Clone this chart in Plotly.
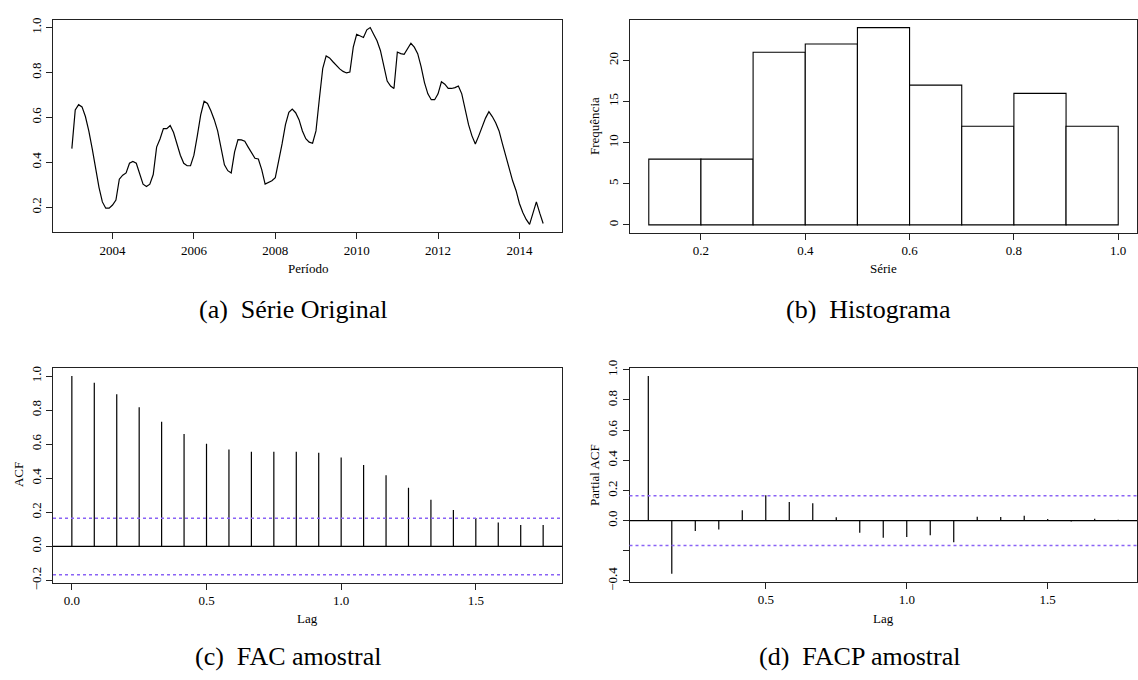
import math
import plotly.graph_objects as go

# ---------------- data ----------------
start_year = 2003.0
freq = 12
serie = [
    0.461, 0.633, 0.657, 0.647, 0.604, 0.540, 0.461, 0.375, 0.289, 0.224,
    0.196, 0.196, 0.210, 0.232, 0.325, 0.343, 0.353, 0.396, 0.404, 0.396,
    0.346, 0.303, 0.293, 0.303, 0.346, 0.468, 0.504, 0.550, 0.550, 0.564,
    0.533, 0.482, 0.432, 0.396, 0.385,
    0.385, 0.432, 0.518, 0.611, 0.672, 0.662, 0.630, 0.590, 0.540, 0.461,
    0.389, 0.363, 0.353, 0.447, 0.501, 0.500, 0.494, 0.468, 0.444, 0.418,
    0.415, 0.368, 0.303, 0.310, 0.318, 0.332, 0.404, 0.482, 0.568, 0.623,
    0.637, 0.621, 0.590, 0.540, 0.505, 0.490,
    0.485, 0.540, 0.683, 0.819, 0.874, 0.865, 0.848, 0.831, 0.816, 0.805,
    0.798, 0.802, 0.913, 0.970, 0.963, 0.956, 0.990, 1.000, 0.970, 0.941,
    0.898, 0.826, 0.762, 0.740, 0.729, 0.891, 0.884, 0.881, 0.908, 0.930,
    0.913, 0.884, 0.826, 0.755, 0.705,
    0.679, 0.679, 0.705, 0.759, 0.748, 0.729, 0.729, 0.733, 0.740, 0.705,
    0.633, 0.568, 0.518, 0.482, 0.518, 0.558, 0.597, 0.626, 0.604, 0.576,
    0.540, 0.482, 0.425, 0.368, 0.318, 0.275, 0.217, 0.177, 0.146, 0.124,
    0.174, 0.224, 0.174, 0.128,
]
periodo = [start_year + i / freq for i in range(len(serie))]

hist_edges = [0.1, 0.2, 0.3, 0.4, 0.5, 0.6, 0.7, 0.8, 0.9, 1.0]
hist_counts = [8, 8, 21, 22, 24, 17, 12, 16, 12]

acf_vals = [1.000, 0.960, 0.893, 0.817, 0.732, 0.660, 0.602, 0.568, 0.555, 0.555,
            0.555, 0.549, 0.522, 0.478, 0.417, 0.344, 0.274, 0.214, 0.166, 0.140,
            0.126, 0.126]
acf_lags = [k / 12 for k in range(len(acf_vals))]

pacf_vals = [0.959, -0.353, -0.069, -0.058, 0.069, 0.168, 0.123, 0.116, 0.022, -0.080,
             -0.114, -0.108, -0.097, -0.144, 0.026, 0.024, 0.032, 0.011, -0.006, 0.013,
             0.006]
pacf_lags = [(k + 1) / 12 for k in range(len(pacf_vals))]

n_obs = len(serie)
ci = 1.96 / math.sqrt(n_obs)

captions = ["(a)\u00a0\u00a0Série Original", "(b)\u00a0\u00a0Histograma",
            "(c)\u00a0\u00a0FAC amostral", "(d)\u00a0\u00a0FACP amostral"]

# ---------------- helpers ----------------
W, H = 1138, 680
FONT = "Liberation Serif"
TICKF = dict(family=FONT, size=13, color="black")


def rng(lo, hi):
    r = hi - lo
    return [lo - 0.04 * r, hi + 0.04 * r]


def px_x(a, b):
    return [a / W, b / W]


def px_y(top, bottom):
    return [1 - bottom / H, 1 - top / H]


def spikes(xs, ys):
    X, Y = [], []
    for x, y in zip(xs, ys):
        X += [x, x, None]
        Y += [0, y, None]
    return X, Y


ax_common = dict(showline=True, mirror=True, linecolor="#222", linewidth=1,
                 ticks="outside", ticklen=6, tickcolor="#222", tickwidth=1,
                 showgrid=False, zeroline=False, tickfont=TICKF)

fig = go.Figure()

# (a) time series
fig.add_trace(go.Scatter(x=periodo, y=serie, mode="lines",
                         line=dict(color="black", width=1.2),
                         xaxis="x", yaxis="y", showlegend=False))

# (b) histogram
centers = [(hist_edges[i] + hist_edges[i + 1]) / 2 for i in range(len(hist_counts))]
widths = [hist_edges[i + 1] - hist_edges[i] for i in range(len(hist_counts))]
fig.add_trace(go.Bar(x=centers, y=hist_counts, width=widths,
                     marker=dict(color="white", line=dict(color="black", width=1.1)),
                     xaxis="x2", yaxis="y2", showlegend=False))

# (c) ACF
ax_, ay_ = spikes(acf_lags, acf_vals)
fig.add_trace(go.Scatter(x=ax_, y=ay_, mode="lines", line=dict(color="black", width=1.2),
                         xaxis="x3", yaxis="y3", showlegend=False))

# (d) PACF
px_, py_ = spikes(pacf_lags, pacf_vals)
fig.add_trace(go.Scatter(x=px_, y=py_, mode="lines", line=dict(color="black", width=1.2),
                         xaxis="x4", yaxis="y4", showlegend=False))

shapes = []
for xa, ya in (("x3", "y3"), ("x4", "y4")):
    shapes.append(dict(type="line", xref=xa + " domain", yref=ya, x0=0, x1=1, y0=0, y1=0,
                       line=dict(color="black", width=1.2)))
    for s in (ci, -ci):
        shapes.append(dict(type="line", xref=xa + " domain", yref=ya, x0=0, x1=1, y0=s, y1=s,
                           line=dict(color="#8a63f5", width=1.5, dash="3px,3px")))

acf_ticks = [-0.2, 0.0, 0.2, 0.4, 0.6, 0.8, 1.0]
pacf_ticks = [-0.4, -0.2, 0.0, 0.2, 0.4, 0.6, 0.8, 1.0]


def lab(v):
    s = "%.1f" % abs(v)
    return ("\u2212" + s) if v < 0 else s


ts_y = rng(min(serie), max(serie))
fig.update_layout(
    width=W, height=H, margin=dict(l=0, r=0, t=0, b=0),
    paper_bgcolor="white", plot_bgcolor="white",
    font=dict(family=FONT, color="black"),
    xaxis=dict(ax_common, domain=px_x(53, 562), range=rng(periodo[0], periodo[-1]),
               tickvals=[2004, 2006, 2008, 2010, 2012, 2014], anchor="y"),
    yaxis=dict(ax_common, domain=px_y(12, 230), range=ts_y,
               tickvals=[0.2, 0.4, 0.6, 0.8, 1.0], ticktext=[lab(v) for v in [0.2, 0.4, 0.6, 0.8, 1.0]],
               tickangle=-90, anchor="x"),
    xaxis2=dict(ax_common, domain=px_x(630, 1137), range=rng(hist_edges[0], hist_edges[-1]),
                tickvals=[0.2, 0.4, 0.6, 0.8, 1.0], ticktext=[lab(v) for v in [0.2, 0.4, 0.6, 0.8, 1.0]],
                anchor="y2"),
    yaxis2=dict(ax_common, domain=px_y(12, 230.5), range=rng(0, max(hist_counts)),
                tickvals=[0, 5, 10, 15, 20], tickangle=-90, anchor="x2"),
    xaxis3=dict(ax_common, domain=px_x(53, 562), range=rng(acf_lags[0], acf_lags[-1]),
                tickvals=[0, 0.5, 1.0, 1.5], ticktext=[lab(v) for v in [0, 0.5, 1.0, 1.5]], anchor="y3"),
    yaxis3=dict(ax_common, domain=px_y(369.3, 589.3), range=rng(-ci, 1.0),
                tickvals=acf_ticks, ticktext=[lab(v) for v in acf_ticks], tickangle=-90, anchor="x3"),
    xaxis4=dict(ax_common, domain=px_x(629.5, 1137), range=rng(pacf_lags[0], pacf_lags[-1]),
                tickvals=[0.5, 1.0, 1.5], ticktext=[lab(v) for v in [0.5, 1.0, 1.5]], anchor="y4"),
    yaxis4=dict(ax_common, domain=px_y(369.3, 588.5), range=rng(min(pacf_vals), max(pacf_vals)),
                tickvals=pacf_ticks, ticktext=["" if abs(v + 0.2) < 1e-9 else lab(v) for v in pacf_ticks],
                tickangle=-90, anchor="x4"),
    shapes=shapes,
)

ann = []
def text_at(x, y, t, size, angle=0):
    ann.append(dict(x=x / W, y=1 - y / H, xref="paper", yref="paper", text=t, showarrow=False,
                    textangle=angle, xanchor="center", yanchor="middle",
                    font=dict(family=FONT, size=size, color="black")))

# axis titles
text_at(307.5, 267, "Período", 13)
text_at(883.5, 267, "Série", 13)
text_at(307.5, 626, "Lag", 13)
text_at(883.5, 626, "Lag", 13)
text_at(595, 121, "Frequência", 13, -90)
text_at(18, 479, "ACF", 13, -90)
text_at(594, 479, "Partial ACF", 13, -90)

# captions
text_at(293, 309, captions[0], 26)
text_at(868, 309, captions[1], 26)
text_at(288, 665, captions[2], 26)
text_at(860, 665, captions[3], 26)

fig.update_layout(annotations=ann)
fig.write_html("out.html")
